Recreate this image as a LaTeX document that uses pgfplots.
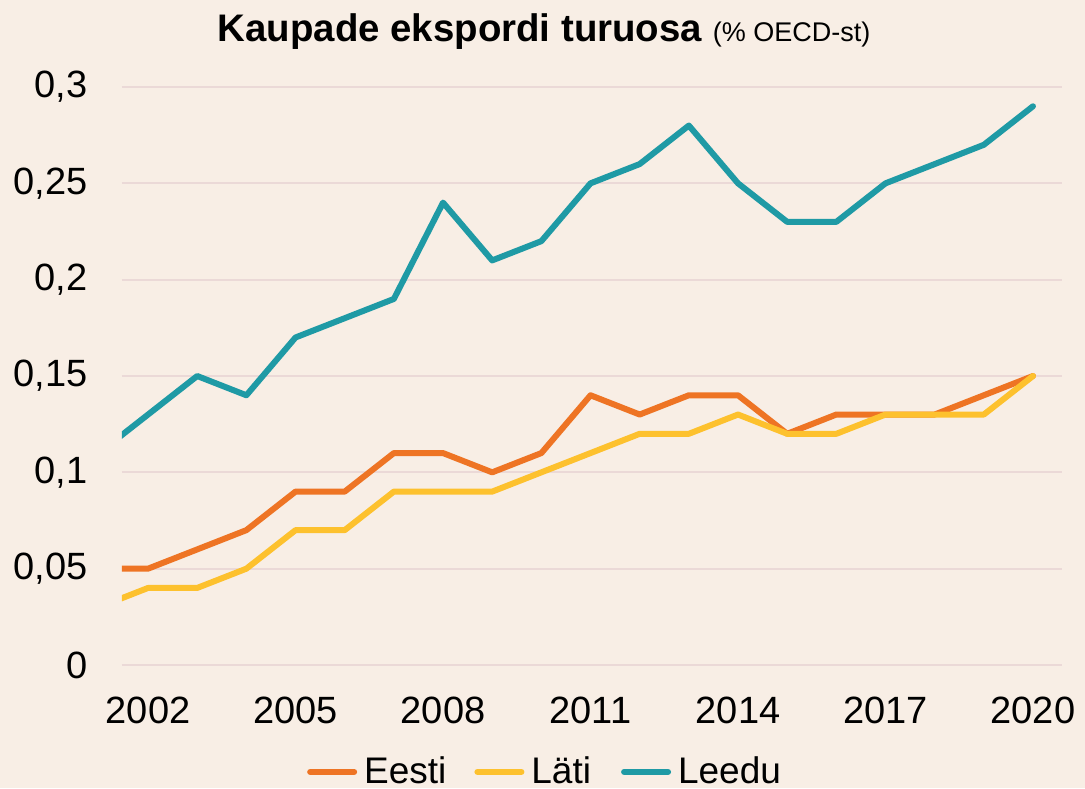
\documentclass[border=0pt]{standalone}
\usepackage{fontspec}
\setmainfont{Liberation Sans}
\usepackage{pgfplots}
\pgfplotsset{compat=1.18}
\definecolor{bgc}{HTML}{F8EEE5}
\definecolor{gridc}{HTML}{EBD9D7}
\definecolor{eesti}{HTML}{EE7424}
\definecolor{lati}{HTML}{FDC12E}
\definecolor{leedu}{HTML}{1F9AA5}
\begin{document}
\begin{tikzpicture}
\fill[bgc] (-61pt,-61.5pt) rectangle (481.5pt,332.5pt);
\begin{axis}[
  at={(0pt,0pt)}, anchor=south west,
  scale only axis, width=470pt, height=289pt,
  xmin=2001.47, xmax=2020.59, ymin=0, ymax=0.3,
  axis line style={draw=none},
  major tick length=0pt,
  ymajorgrids, grid style={color=gridc, line width=1pt},
  xtick={2002,2005,2008,2011,2014,2017,2020},
  xticklabels={2002,2005,2008,2011,2014,2017,2020},
  ytick={0,0.05,0.1,0.15,0.2,0.25,0.3},
  yticklabels={0,{0,05},{0,1},{0,15},{0,2},{0,25},{0,3}},
  x tick label style={font=\fontsize{19}{22}\selectfont, anchor=north, inner sep=0pt, yshift=-16pt},
  y tick label style={font=\fontsize{19}{22}\selectfont, anchor=east, inner sep=0pt, xshift=-17pt},
  title={\fontsize{19.2}{23}\selectfont\bfseries Kaupade ekspordi turuosa \mdseries\fontsize{13.5}{16}\selectfont(\% OECD-st)},
  title style={at={(axis description cs:0.449,1)}, anchor=center, yshift=21.5pt, inner sep=0pt},
  legend columns=3,
  legend style={at={(axis description cs:0.449,-0.185)}, anchor=center, draw=none, fill=none,
    font=\fontsize{18.5}{22}\selectfont, nodes={inner sep=0pt},
    /tikz/column 1/.style={column sep=3.5pt},
    /tikz/column 2/.style={column sep=14pt},
    /tikz/column 3/.style={column sep=3.5pt},
    /tikz/column 4/.style={column sep=15pt},
    /tikz/column 5/.style={column sep=3.5pt}},
  legend image code/.code={\draw[#1, line cap=round] (0pt,0pt) -- (22pt,0pt);},
  every axis plot/.append style={line width=3pt, line join=round, line cap=round},
]
\addplot[eesti] coordinates {
(2001,0.05)(2002,0.05)(2003,0.06)(2004,0.07)(2005,0.09)(2006,0.09)(2007,0.11)(2008,0.11)(2009,0.10)(2010,0.11)
(2011,0.14)(2012,0.13)(2013,0.14)(2014,0.14)(2015,0.12)(2016,0.13)(2017,0.13)(2018,0.13)(2019,0.14)(2020,0.15)};
\addlegendentry{Eesti}
\addplot[lati] coordinates {
(2001,0.03)(2002,0.04)(2003,0.04)(2004,0.05)(2005,0.07)(2006,0.07)(2007,0.09)(2008,0.09)(2009,0.09)(2010,0.10)
(2011,0.11)(2012,0.12)(2013,0.12)(2014,0.13)(2015,0.12)(2016,0.12)(2017,0.13)(2018,0.13)(2019,0.13)(2020,0.15)};
\addlegendentry{Läti}
\addplot[leedu] coordinates {
(2001,0.11)(2002,0.13)(2003,0.15)(2004,0.14)(2005,0.17)(2006,0.18)(2007,0.19)(2008,0.24)(2009,0.21)(2010,0.22)
(2011,0.25)(2012,0.26)(2013,0.28)(2014,0.25)(2015,0.23)(2016,0.23)(2017,0.25)(2018,0.26)(2019,0.27)(2020,0.29)};
\addlegendentry{Leedu}
\end{axis}
\pgfresetboundingbox
\useasboundingbox (-61pt,-61.5pt) rectangle (481.5pt,332.5pt);
\end{tikzpicture}
\end{document}
